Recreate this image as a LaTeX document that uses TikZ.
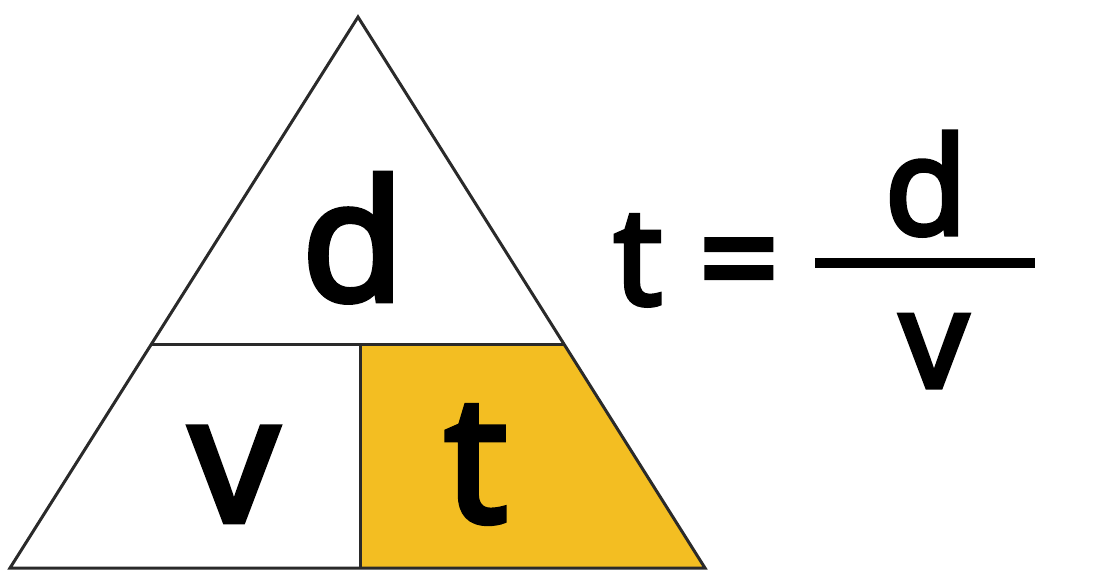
\documentclass[tikz,border=0pt]{standalone}
\usepackage{fontspec}
\setmainfont{Open Sans}
\newfontfamily\semifont{Open Sans}[FakeBold=4]
\definecolor{tyellow}{HTML}{F3BE22}
\definecolor{tline}{HTML}{2A2A2A}
\begin{document}
\begin{tikzpicture}[x=1pt,y=-1pt,
  edge/.style={draw=tline,line width=3pt,line join=miter},
  bigletter/.style={inner sep=0pt,anchor=base,font=\fontsize{174}{174}\semifont},
  eqletter/.style={inner sep=0pt,anchor=base,font=\fontsize{134}{134}\semifont}]
\useasboundingbox (0,0) rectangle (1095,588);
\coordinate (A) at (358,17);
\coordinate (BL) at (10,568);
\coordinate (BR) at (705,568);
\coordinate (ML) at (151.5,344);
\coordinate (MR) at (564,344);
\coordinate (MM) at (360,344);
\coordinate (BM) at (360,568);
\fill[tyellow] (MM) -- (MR) -- (BR) -- (BM) -- cycle;
\draw[edge] (ML) -- (MR);
\draw[edge] (MM) -- (BM);
\draw[edge] (A) -- (BL) -- (BR) -- cycle;
\node[bigletter,font=\fontsize{166}{166}\semifont] (d) at (353,300) {d};
\node[bigletter] (v) at (234,521) {v};
\node[bigletter] (t) at (476,521) {t};
\node[eqletter] (t2) at (638,304) {t};
\node[inner sep=0pt,font=\fontsize{140}{140}\semifont] (eq) at (739,274) {=};
\coordinate (f1) at (815,263);
\coordinate (f2) at (1035,263);
\draw[black,line width=10pt] (f1) -- (f2);
\node[eqletter] (d2) at (926,234) {d};
\node[eqletter] (v2) at (934,387) {v};
\end{tikzpicture}
\end{document}
